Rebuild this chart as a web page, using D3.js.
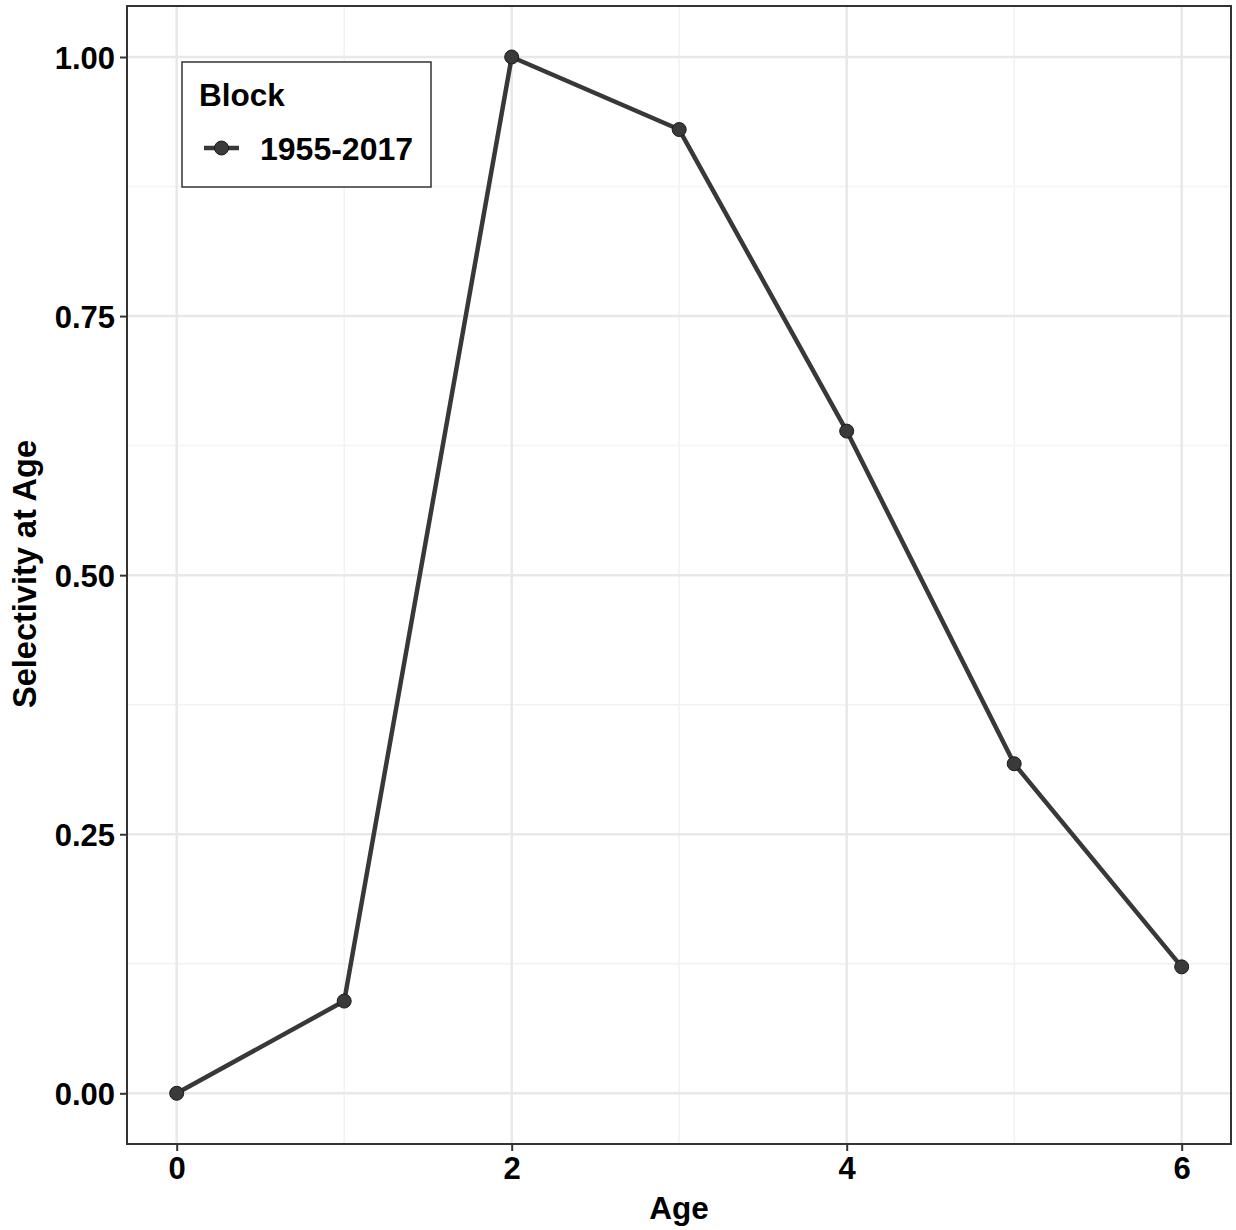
<!DOCTYPE html>
<html><head><meta charset="utf-8">
<script src="https://cdn.jsdelivr.net/npm/d3@7"></script>
<style>body{margin:0;background:#fff}svg{display:block}text{font-family:"Liberation Sans",Arial,sans-serif;font-weight:bold}</style>
</head><body><svg id="c" width="1236" height="1230"></svg>
<script>
const ages = [0, 1, 2, 3, 4, 5, 6];
const selectivity = [0, 0.089, 1.0, 0.930, 0.639, 0.318, 0.122];
const seriesName = "1955-2017";
const xTicks = [0, 2, 4, 6];
const yTicks = [0, 0.25, 0.5, 0.75, 1.0];

const svg = d3.select("#c");
const L = 127, R = 1231, T = 6, B = 1144;
const x = d3.scaleLinear().domain([0, 6]).range([176.7, 1181.7]);
const y = d3.scaleLinear().domain([0, 1]).range([1093.3, 57]);

svg.append("rect").attr("x", L).attr("y", T).attr("width", R - L).attr("height", B - T).attr("fill", "#fff");
const g = svg.append("g");
[1, 3, 5].forEach(v => g.append("line").attr("x1", x(v)).attr("x2", x(v)).attr("y1", T).attr("y2", B).attr("stroke", "#f2f2f2").attr("stroke-width", 1.5));
[0.125, 0.375, 0.625, 0.875].forEach(v => g.append("line").attr("y1", y(v)).attr("y2", y(v)).attr("x1", L).attr("x2", R).attr("stroke", "#f2f2f2").attr("stroke-width", 1.5));
xTicks.forEach(v => g.append("line").attr("x1", x(v)).attr("x2", x(v)).attr("y1", T).attr("y2", B).attr("stroke", "#e8e8e8").attr("stroke-width", 2.5));
yTicks.forEach(v => g.append("line").attr("y1", y(v)).attr("y2", y(v)).attr("x1", L).attr("x2", R).attr("stroke", "#e8e8e8").attr("stroke-width", 2.5));

const pts = ages.map((a, i) => [a, selectivity[i]]);
svg.append("path").datum(pts).attr("d", d3.line().x(d => x(d[0])).y(d => y(d[1])))
  .attr("fill", "none").attr("stroke", "#383838").attr("stroke-width", 4.5).attr("stroke-linejoin", "round");
svg.selectAll("circle.p").data(pts).join("circle").attr("class", "p")
  .attr("cx", d => x(d[0])).attr("cy", d => y(d[1])).attr("r", 7)
  .attr("fill", "#3a3a3a").attr("stroke", "#1a1a1a").attr("stroke-width", 1);

svg.append("rect").attr("x", L).attr("y", T).attr("width", R - L).attr("height", B - T)
  .attr("fill", "none").attr("stroke", "#333").attr("stroke-width", 2);

const xa = svg.append("g").attr("transform", `translate(0,${B})`)
  .call(d3.axisBottom(x).tickValues(xTicks).tickFormat(d3.format("d")).tickSize(7).tickPadding(6));
const ya = svg.append("g").attr("transform", `translate(${L},0)`)
  .call(d3.axisLeft(y).tickValues(yTicks).tickFormat(d3.format(".2f")).tickSize(7).tickPadding(5));
[xa, ya].forEach(a => {
  a.select(".domain").remove();
  a.selectAll(".tick line").attr("stroke", "#333").attr("stroke-width", 2);
  a.selectAll(".tick text").attr("fill", "#000").attr("font-size", 31).attr("font-weight", "bold").attr("font-family", "Liberation Sans, Arial, sans-serif");
});
ya.selectAll(".tick text").attr("dy", "0.36em");

svg.append("text").attr("x", 679).attr("y", 1219).attr("text-anchor", "middle").attr("font-size", 31.5).text("Age");
svg.append("text").attr("transform", "translate(36,574) rotate(-90)").attr("text-anchor", "middle").attr("font-size", 32.5).text("Selectivity at Age");

const lg = svg.append("g");
lg.append("rect").attr("x", 182).attr("y", 62).attr("width", 249).attr("height", 125).attr("fill", "#fff").attr("stroke", "#333").attr("stroke-width", 1.5);
lg.append("text").attr("x", 199).attr("y", 106).attr("font-size", 31.5).text("Block");
lg.append("line").attr("x1", 204).attr("x2", 239).attr("y1", 148).attr("y2", 148).attr("stroke", "#383838").attr("stroke-width", 4.5);
lg.append("circle").attr("cx", 221.5).attr("cy", 148).attr("r", 7).attr("fill", "#3a3a3a").attr("stroke", "#1a1a1a").attr("stroke-width", 1);
lg.append("text").attr("x", 260).attr("y", 160).attr("font-size", 32).text(seriesName);
</script></body></html>
